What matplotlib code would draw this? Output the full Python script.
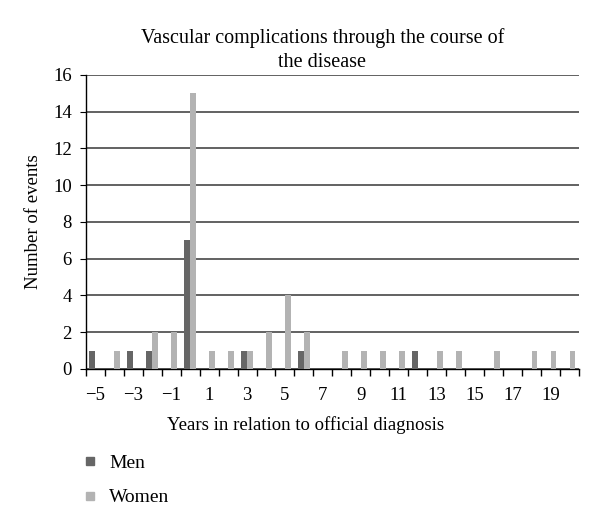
import matplotlib.pyplot as plt
import numpy as np
from matplotlib.lines import Line2D

years = list(range(-5, 21))
men = [1, 0, 1, 1, 0, 7, 0, 0, 1, 0, 0, 1, 0, 0, 0, 0, 0, 1, 0, 0, 0, 0, 0, 0, 0, 0]
women = [0, 1, 0, 2, 2, 15, 1, 1, 1, 2, 4, 2, 0, 1, 1, 1, 1, 0, 1, 1, 0, 1, 0, 1, 1, 1]
tick_years = list(range(-5, 20, 2))

men_color = '#666666'
women_color = '#b3b3b3'

plt.rcParams['font.family'] = ['Liberation Serif', 'DejaVu Serif']

fig = plt.figure(figsize=(6, 5.27), dpi=100)
ax = fig.add_axes([0.143, 0.30, 0.822, 0.558])

x = np.array(years)
w = 0.3
ax.bar(x - 0.16, men, width=w, color=men_color, zorder=3)
ax.bar(x + 0.16, women, width=w, color=women_color, zorder=3)

ax.set_xlim(-5.5, 20.5)
ax.set_ylim(0, 16)
ax.set_yticks(range(0, 17, 2))
ax.yaxis.grid(True, color='#555555', linewidth=1.3, zorder=0)
ax.set_axisbelow(True)

ax.set_xticks(tick_years)
ax.set_xticklabels([str(t).replace('-', '\u2212') for t in tick_years], fontsize=13.5)
ax.set_xticks(np.arange(-5.5, 21, 1), minor=True)
ax.tick_params(axis='x', which='major', length=0, pad=13)
ax.tick_params(axis='x', which='minor', length=5, direction='out', width=1)
ax.tick_params(axis='y', length=4, direction='out', labelsize=13.5, pad=6)

for s in ['top', 'right']:
    ax.spines[s].set_visible(False)
ax.spines['left'].set_linewidth(1)
ax.spines['bottom'].set_linewidth(1)

ax.set_ylabel('Number of events', fontsize=13.5, labelpad=8)
ax.set_xlabel('Years in relation to official diagnosis', fontsize=13.5, labelpad=8)
ax.xaxis.set_label_coords(0.445, -0.16)
fig.text(0.537, 0.905, 'Vascular complications through the course of\nthe disease',
         fontsize=14.5, ha='center', va='center', linespacing=1.3)

handles = [Line2D([], [], marker='s', color=men_color, linestyle='none', markersize=6),
           Line2D([], [], marker='s', color=women_color, linestyle='none', markersize=6)]
fig.legend(handles, ['Men', 'Women'], loc='upper left', bbox_to_anchor=(0.12, 0.152),
           frameon=False, fontsize=14, handletextpad=0.5, handlelength=1.0,
           labelspacing=0.85, borderaxespad=0)

plt.savefig('out.png', dpi=100)
